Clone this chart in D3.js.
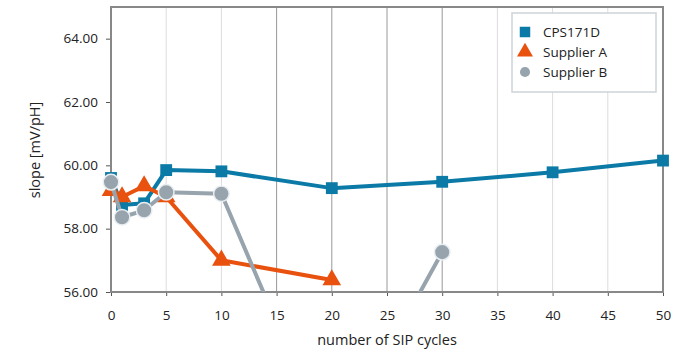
<!DOCTYPE html>
<html><head><meta charset="utf-8">
<script src="https://cdn.jsdelivr.net/npm/d3@7"></script>
<style>body{margin:0;background:#fff}svg{display:block}</style>
</head><body>
<svg id="c" width="673" height="354"></svg>
<script>
const cycles = [0, 1, 3, 5, 10, 20, 30, 40, 50];
const cpsValues = [59.6, 58.75, 58.8, 59.85, 59.81, 59.28, 59.48, 59.78, 60.15];
const supACycles = [0, 1, 3, 5, 10, 20];
const supAValues = [59.2, 59.0, 59.35, 59.0, 57.0, 56.38];
const supBCycles = [0, 1, 3, 5, 10, 20, 30];
const supBValues = [59.47, 58.36, 58.58, 59.15, 59.1, 50.95, 57.26];
const xTicks = [0,5,10,15,20,25,30,35,40,45,50];
const yTicks = [56,58,60,62,64];
const seriesNames = ["CPS171D", "Supplier A", "Supplier B"];

const svg = d3.select("#c");
const L = 111, R = 663, T = 7, B = 292;
const font = "'Open Sans', sans-serif";
const x = d3.scaleLinear().domain([0,50]).range([L,R]);
const y = d3.scaleLinear().domain([56,65]).range([B,T]);

// gridlines
svg.append("g").selectAll("line").data(xTicks.filter(d=>d>0&&d<50)).join("line")
  .attr("x1",d=>x(d)).attr("x2",d=>x(d)).attr("y1",T).attr("y2",B)
  .attr("stroke",d=>(d>=15&&d<=30)?"#999":"#dcdcdc").attr("stroke-width",1);

// axes
const ya = svg.append("g").attr("transform",`translate(${L},0)`)
  .call(d3.axisLeft(y).tickValues(yTicks).tickFormat(d3.format(".2f")).tickSize(5).tickPadding(8));
const xa = svg.append("g").attr("transform",`translate(0,${B})`)
  .call(d3.axisBottom(x).tickValues(xTicks).tickSize(4).tickPadding(14));
[ya,xa].forEach(a=>{
  a.select(".domain").remove();
  a.selectAll("line").attr("stroke","#555");
  a.selectAll("text").attr("font-family",font).attr("font-size",13.5).attr("fill","#222");
});

// frame
svg.append("rect").attr("x",L).attr("y",T).attr("width",R-L).attr("height",B-T)
  .attr("fill","none").attr("stroke","#888").attr("stroke-width",2);

svg.append("defs").append("clipPath").attr("id","clip")
  .append("rect").attr("x",L-12).attr("y",T-10).attr("width",R-L+24).attr("height",B-T+10);

const g = svg.append("g").attr("clip-path","url(#clip)");
const blue="#0b7aa6", orange="#e8510e", gray="#97a4ad";
const line = d3.line().x(d=>x(d[0])).y(d=>y(d[1]));

function series(xs, vs, color, shape){
  const pts = xs.map((c,i)=>[c,vs[i]]);
  g.append("path").datum(pts).attr("d",line).attr("fill","none")
    .attr("stroke",color).attr("stroke-width",4).attr("stroke-linejoin","round");
  const sym = d3.symbol().type(shape).size(shape===d3.symbolSquare?140:shape===d3.symbolTriangle?150:190);
  g.selectAll(null).data(pts).join("path")
    .attr("transform",d=>`translate(${x(d[0])},${y(d[1])})`)
    .attr("d",sym).attr("fill",color)
    .attr("stroke",shape===d3.symbolCircle?"#e8eef2":"none").attr("stroke-width",1.5);
}
series(cycles, cpsValues, blue, d3.symbolSquare);
series(supACycles, supAValues, orange, d3.symbolTriangle);
series(supBCycles, supBValues, gray, d3.symbolCircle);

// axis titles
svg.append("text").attr("transform","translate(40,150) rotate(-90)").attr("text-anchor","middle")
  .attr("font-family",font).attr("font-size",14.5).attr("fill","#222").text("slope [mV/pH]");
svg.append("text").attr("x",387).attr("y",345).attr("text-anchor","middle")
  .attr("font-family",font).attr("font-size",14.5).attr("fill","#222").text("number of SIP cycles");

// legend
const lg = svg.append("g");
lg.append("rect").attr("x",512).attr("y",13).attr("width",144).attr("height",79)
  .attr("fill","#fff").attr("stroke","#ccd3d8").attr("stroke-width",1.5);
const legShapes=[d3.symbolSquare,d3.symbolTriangle,d3.symbolCircle];
const legColors=[blue,orange,gray];
const legSizes=[110,110,80];
seriesNames.forEach((n,i)=>{
  const yy = 32 + i*20;
  lg.append("path").attr("transform",`translate(525,${yy})`)
    .attr("d",d3.symbol().type(legShapes[i]).size(legSizes[i])).attr("fill",legColors[i]);
  lg.append("text").attr("x",543).attr("y",yy+5).attr("font-family",font).attr("font-size",13.5)
    .attr("fill","#222").text(n);
});
</script>
</body></html>
